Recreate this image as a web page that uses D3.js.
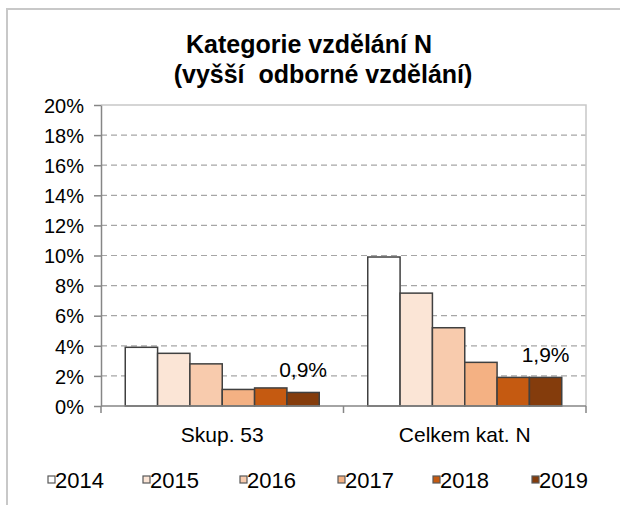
<!DOCTYPE html>
<html>
<head>
<meta charset="utf-8">
<script src="https://cdn.jsdelivr.net/npm/d3@7"></script>
<style>
  body { margin: 0; background: #fff; }
  svg { display: block; font-family: "Liberation Sans", Arial, sans-serif; }
</style>
</head>
<body>
<svg id="chart" width="620" height="505"></svg>
<script>
// data
const categories = ['Skup. 53', 'Celkem kat. N'];
const years = ['2014', '2015', '2016', '2017', '2018', '2019'];
const skup53 = [3.9, 3.5, 2.8, 1.1, 1.2, 0.9];
const celkemN = [9.9, 7.5, 5.2, 2.9, 1.9, 1.9];
const yTicks = [0, 2, 4, 6, 8, 10, 12, 14, 16, 18, 20];
const colors = ['#ffffff', '#fbe5d6', '#f8cbad', '#f4b183', '#c55a11', '#843c0c'];

const seriesByCat = [skup53, celkemN];
const svg = d3.select('#chart');

// outer frame
svg.append('path')
    .attr('d', 'M7,505 V9 H620')
    .attr('fill', 'none')
    .attr('stroke', '#c8c8c8')
    .attr('stroke-width', 2);

// title
svg.append('text').attr('x', 309).attr('y', 53).attr('text-anchor', 'middle')
    .attr('font-size', 25).attr('font-weight', 'bold').text('Kategorie vzdělání N');
svg.append('text').attr('x', 323).attr('y', 83).attr('text-anchor', 'middle')
    .attr('font-size', 25).attr('font-weight', 'bold').attr('xml:space', 'preserve')
    .text('(vyšší  odborné vzdělání)');

const plot = { left: 101, right: 586, top: 105, bottom: 406 };

const x0 = d3.scaleBand().domain(categories)
    .range([plot.left, plot.right]).paddingInner(0.2).paddingOuter(0.1);
const x1 = d3.scaleBand().domain(years).range([0, x0.bandwidth()]);
const y = d3.scaleLinear().domain([0, 20]).range([plot.bottom, plot.top]);

// gridlines
svg.append('g').selectAll('line')
    .data(yTicks.filter(t => t > 0 && t < 20))
    .enter().append('line')
    .attr('x1', plot.left).attr('x2', plot.right)
    .attr('y1', d => y(d)).attr('y2', d => y(d))
    .attr('stroke', '#a6a6a6').attr('stroke-width', 1.2)
    .attr('stroke-dasharray', '6,4');

// plot area border top / right
svg.append('path')
    .attr('d', `M${plot.left},${y(20)} H${plot.right} V${plot.bottom}`)
    .attr('fill', 'none').attr('stroke', '#c8c8c8').attr('stroke-width', 1.5);

// bars
const groups = svg.append('g').selectAll('g')
    .data(categories)
    .enter().append('g')
    .attr('transform', d => 'translate(' + x0(d) + ',0)');

groups.selectAll('rect')
    .data((d, i) => seriesByCat[i].map((v, j) => ({ year: years[j], value: v, idx: j })))
    .enter().append('rect')
    .attr('x', d => x1(d.year))
    .attr('y', d => y(d.value))
    .attr('width', x1.bandwidth())
    .attr('height', d => y(0) - y(d.value))
    .attr('fill', d => colors[d.idx])
    .attr('stroke', '#404040')
    .attr('stroke-width', 1.5);

// data labels on last year
groups.append('text')
    .attr('x', x1('2019') + x1.bandwidth() / 2)
    .attr('y', (d, i) => y(seriesByCat[i][5]) - 15)
    .attr('text-anchor', 'middle')
    .attr('font-size', 21)
    .text((d, i) => String(seriesByCat[i][5]).replace('.', ',') + '%');

// y axis
const yAxis = svg.append('g')
    .attr('transform', 'translate(' + plot.left + ',0)')
    .call(d3.axisLeft(y).tickValues(yTicks).tickFormat(d => d + '%').tickSize(7).tickSizeOuter(0));
yAxis.select('.domain').attr('stroke', '#868686').attr('stroke-width', 1.5);
yAxis.selectAll('.tick line').attr('stroke', '#868686').attr('stroke-width', 1.5);
yAxis.selectAll('.tick text').attr('font-size', 20).attr('font-family', '"Liberation Sans", Arial, sans-serif')
    .attr('fill', '#000').attr('x', -17).attr('dy', '0.36em');

// x axis
const xAxisG = svg.append('g').attr('transform', 'translate(0,' + plot.bottom + ')');
xAxisG.append('line').attr('x1', plot.left).attr('x2', plot.right)
    .attr('stroke', '#868686').attr('stroke-width', 1.5);
const bounds = [plot.left, x0(categories[1]) - x0.step() * x0.paddingInner() / 2, plot.right];
xAxisG.selectAll('.xt').data(bounds).enter().append('line')
    .attr('x1', d => d).attr('x2', d => d).attr('y1', 0).attr('y2', 7)
    .attr('stroke', '#868686').attr('stroke-width', 1.5);
xAxisG.selectAll('.xl').data(categories).enter().append('text')
    .attr('x', d => x0(d) + x0.bandwidth() / 2)
    .attr('y', 36)
    .attr('text-anchor', 'middle')
    .attr('font-size', 21)
    .text(d => d);

// legend
const legendX = [48, 143, 240, 338, 433, 532];
const legend = svg.append('g').selectAll('g')
    .data(years)
    .enter().append('g')
    .attr('transform', (d, i) => 'translate(' + legendX[i] + ',476)');
legend.append('rect')
    .attr('width', 7).attr('height', 7)
    .attr('fill', (d, i) => colors[i])
    .attr('stroke', '#595959').attr('stroke-width', 1.2);
legend.append('text')
    .attr('x', 7).attr('y', 12)
    .attr('font-size', 22)
    .text(d => d);
</script>
</body>
</html>
